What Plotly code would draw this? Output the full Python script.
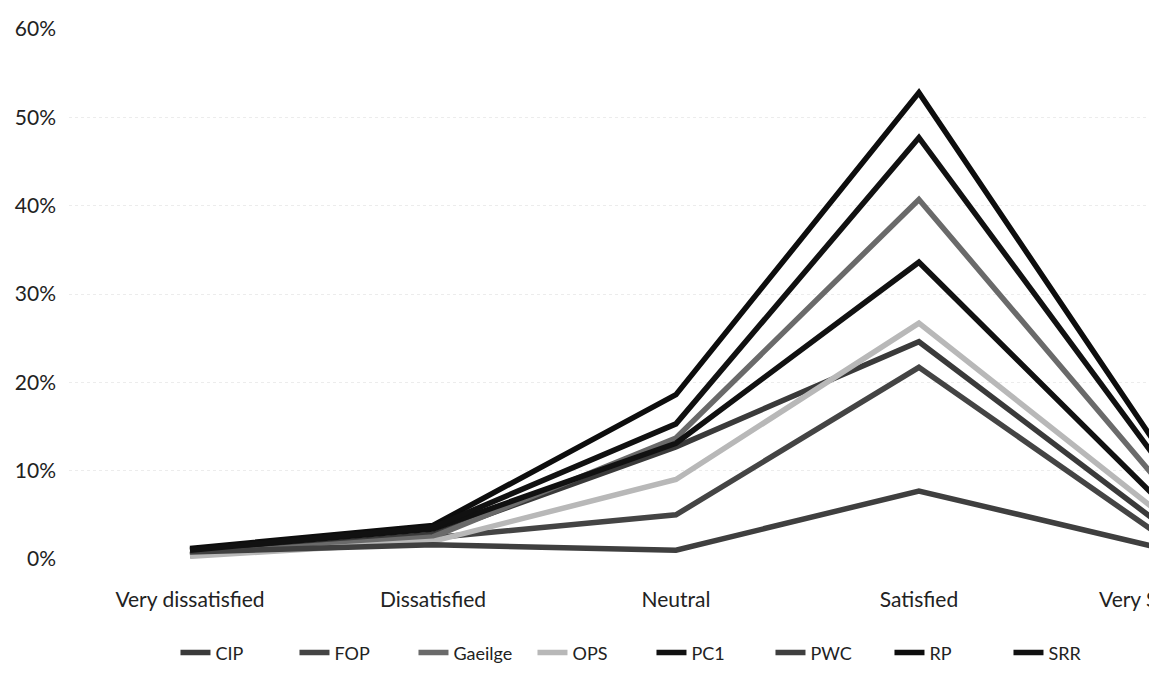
import plotly.graph_objects as go

categories = ["Very dissatisfied", "Dissatisfied", "Neutral", "Satisfied", "Very Satisfied"]

# values in percent
CIP = [0.5, 2.8, 12.7, 24.6, 3.8]
FOP = [0.4, 2.4, 5.0, 21.7, 2.5]
Gaeilge = [0.5, 2.5, 13.7, 40.7, 8.3]
OPS = [0.3, 2.0, 9.0, 26.7, 5.0]
PC1 = [1.0, 3.4, 13.1, 33.6, 6.3]
PWC = [0.8, 1.6, 1.0, 7.7, 1.2]
RP = [1.2, 3.8, 18.6, 52.8, 12.0]
SRR = [1.0, 3.6, 15.3, 47.7, 10.5]

series = [
    ("CIP", CIP, "#3a3a3a"),
    ("FOP", FOP, "#444444"),
    ("Gaeilge", Gaeilge, "#6a6a6a"),
    ("OPS", OPS, "#b8b8b8"),
    ("PC1", PC1, "#111111"),
    ("PWC", PWC, "#3f3f3f"),
    ("RP", RP, "#0d0d0d"),
    ("SRR", SRR, "#111111"),
]

ytick_vals = [0, 10, 20, 30, 40, 50, 60]
ytick_text = ["0%", "10%", "20%", "30%", "40%", "50%", "60%"]

FONT = "Lato, 'Open Sans', sans-serif"
x_idx = list(range(len(categories)))
x_range = [-0.498, 3.947]

fig = go.Figure()
for name, vals, color in series:
    fig.add_trace(go.Scatter(
        x=x_idx, y=vals, name=name, mode="lines",
        line=dict(color=color, width=5.5),
    ))

fig.update_layout(
    width=1149, height=673,
    margin=dict(l=69, r=0, t=29, b=114),
    paper_bgcolor="white", plot_bgcolor="white",
    font=dict(family=FONT, size=20, color="#222222"),
    showlegend=True,
    legend=dict(
        orientation="h", xref="container", yref="container",
        x=0.567, xanchor="center", y=0.03, yanchor="middle",
        font=dict(size=18, color="#222222"),
        traceorder="normal",
        itemwidth=30,
        entrywidth=74, entrywidthmode="pixels",
    ),
    xaxis=dict(
        range=x_range, tickmode="array",
        tickvals=x_idx[:-1], ticktext=categories[:-1],
        showgrid=False, zeroline=False, showline=False,
        ticks="", ticklabelstandoff=26,
        tickfont=dict(size=21),
    ),
    yaxis=dict(
        range=[0, 60], tickmode="array",
        tickvals=ytick_vals, ticktext=ytick_text,
        showgrid=True, gridcolor="#ececec", griddash="dot", gridwidth=1,
        zeroline=False, showline=False, ticks="",
        ticklabelstandoff=12,
        tickfont=dict(size=21),
    ),
)

# last category label falls beyond the cropped edge: place it as text at its axis position
last_frac = (x_idx[-1] - x_range[0]) / (x_range[1] - x_range[0])
fig.add_annotation(
    x=last_frac, xref="paper", y=-0.0736, yref="paper",
    text=categories[-1], showarrow=False, xanchor="center", yanchor="middle",
    font=dict(size=21, color="#222222", family=FONT),
)

fig.write_html("out.html")
